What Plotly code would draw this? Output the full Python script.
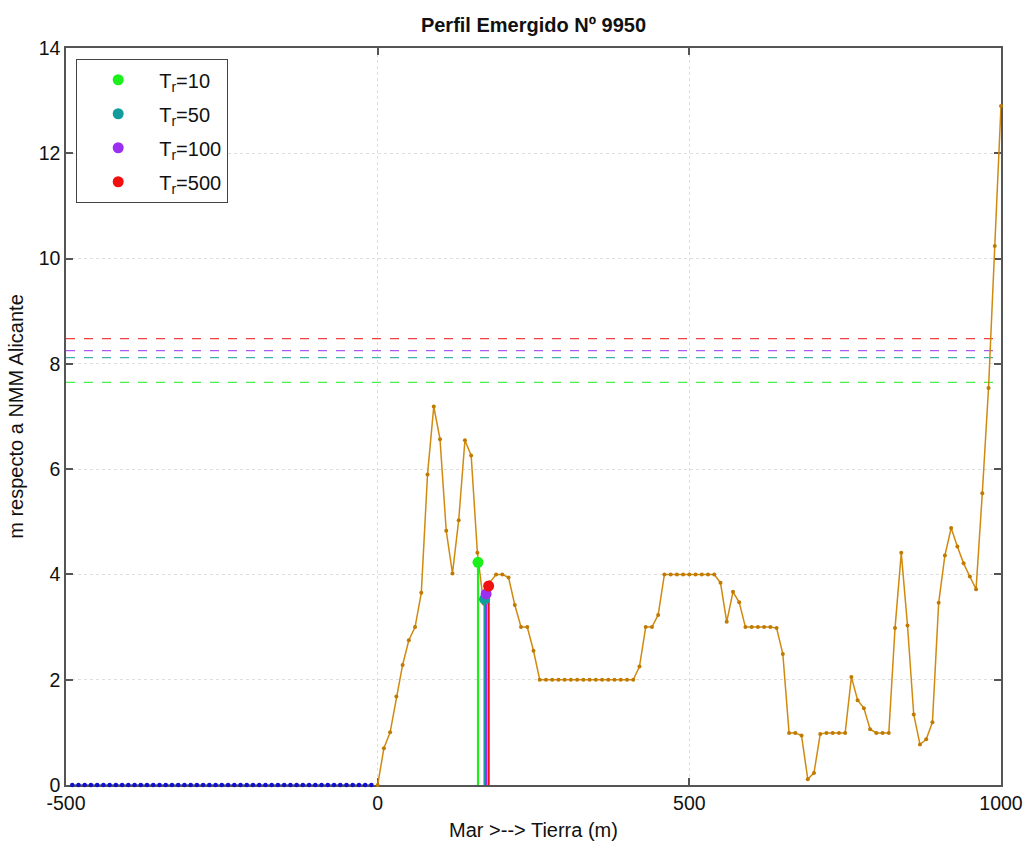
import plotly.graph_objects as go

# ---------------- data ----------------
sea_x = list(range(-490, 0, 10))
sea_y = [0.0] * len(sea_x)

profile_x = list(range(0, 1001, 10))
profile_y = [
    0.0, 0.70, 1.0, 1.68, 2.28, 2.75, 3.0, 3.65, 5.9, 7.19,
    6.57, 4.83, 4.02, 5.03, 6.55, 6.26, 4.41, 3.45, 3.85, 4.0,
    4.0, 3.94, 3.42, 3.0, 3.0, 2.55,
    2.0, 2.0, 2.0, 2.0, 2.0, 2.0, 2.0, 2.0, 2.0, 2.0, 2.0, 2.0, 2.0, 2.0, 2.0, 2.0,
    2.25, 3.0, 3.0, 3.23,
    4.0, 4.0, 4.0, 4.0, 4.0, 4.0, 4.0, 4.0, 4.0,
    3.84, 3.10, 3.67, 3.47,
    3.0, 3.0, 3.0, 3.0, 3.0, 2.98,
    2.49, 0.99, 0.99, 0.94, 0.11, 0.23, 0.97,
    0.99, 0.99, 0.99, 0.99,
    2.05, 1.61, 1.46, 1.06,
    0.99, 0.99, 0.99,
    2.98, 4.41, 3.03, 1.34, 0.77, 0.87, 1.19, 3.46, 4.36, 4.88,
    4.53, 4.21, 3.96, 3.72, 5.54, 7.54, 10.24, 12.9,
]

return_periods = ["10", "50", "100", "500"]
runup_x = [161, 171.5, 174, 178]
runup_y = [4.23, 3.53, 3.63, 3.78]
level_y = [7.65, 8.12, 8.25, 8.48]
colors = ["#1bf01b", "#129c9c", "#9b30f0", "#f01010"]

x_ticks = [-500, 0, 500, 1000]
y_ticks = [0, 2, 4, 6, 8, 10, 12, 14]

title_text = "<b>Perfil Emergido Nº 9950</b>"
x_title = "Mar &gt;--&gt; Tierra (m)"
y_title = "m respecto a NMM Alicante"

FONT = "Liberation Sans, Arial"

# ---------------- figure ----------------
fig = go.Figure()

# horizontal dashed levels
for yv, c in zip(level_y, colors):
    fig.add_trace(go.Scatter(
        x=[x_ticks[0], x_ticks[-1]], y=[yv, yv], mode="lines",
        line=dict(color=c, width=1.2, dash="dash"), opacity=0.8,
        showlegend=False, hoverinfo="skip"))

# sea
fig.add_trace(go.Scatter(
    x=sea_x, y=sea_y, mode="lines+markers",
    line=dict(color="#1010c8", width=1.2),
    marker=dict(color="#1010c8", size=4.5),
    cliponaxis=False, showlegend=False))

# profile
fig.add_trace(go.Scatter(
    x=profile_x, y=profile_y, mode="lines+markers",
    line=dict(color="#d08a10", width=1.5),
    marker=dict(color="#c07a00", size=4),
    cliponaxis=False, showlegend=False))

# vertical runup lines
for xv, yv, c in zip(runup_x, runup_y, colors):
    fig.add_trace(go.Scatter(
        x=[xv, xv], y=[0, yv], mode="lines",
        line=dict(color=c, width=2.2),
        showlegend=False, hoverinfo="skip"))

# runup markers (legend)
for xv, yv, c, tr in zip(runup_x, runup_y, colors, return_periods):
    fig.add_trace(go.Scatter(
        x=[xv], y=[yv], mode="markers",
        marker=dict(color=c, size=11),
        legendgroup="g" + tr,
        name="T<sub>r</sub>=" + tr))

axis_common = dict(
    showline=True, linecolor="#555555", linewidth=1.5, mirror="ticks",
    ticks="inside", ticklen=7, tickcolor="#555555", tickwidth=1.5,
    showgrid=True, gridcolor="#dedede", griddash="dot", gridwidth=1,
    zeroline=False, ticklabeloverflow="allow", layer="below traces",
    tickfont=dict(family=FONT, size=19.5, color="#111111"),
)

fig.update_layout(
    width=1026, height=841,
    margin=dict(l=66, r=25, t=48, b=56),
    paper_bgcolor="white", plot_bgcolor="white",
    title=dict(text=title_text, x=0.5, xref="paper", xanchor="center",
               y=0.970, yanchor="middle",
               font=dict(family=FONT, size=20, color="#111111")),
    xaxis=dict(range=[-500, 1000], tickvals=x_ticks, ticktext=[str(v) for v in x_ticks],
               automargin=False,
               title=dict(text=x_title, standoff=12,
                          font=dict(family=FONT, size=20, color="#111111")),
               **axis_common),
    yaxis=dict(range=[0, 14], tickvals=y_ticks, automargin=False,
               title=dict(text=y_title, standoff=10,
                          font=dict(family=FONT, size=20, color="#111111")),
               **axis_common),
    legend=dict(x=0.0107, y=0.985, xanchor="left", yanchor="top",
                bgcolor="white", bordercolor="#444444", borderwidth=1.2,
                font=dict(family=FONT, size=20, color="#111111"),
                itemwidth=72, tracegroupgap=5, traceorder="grouped"),
    showlegend=True,
)

# remove the default 8px page margin so the figure fills the window exactly
fig.write_html("out.html",
               config={"displayModeBar": False},
               post_script="document.body.style.margin='0';document.body.style.overflow='hidden';")
